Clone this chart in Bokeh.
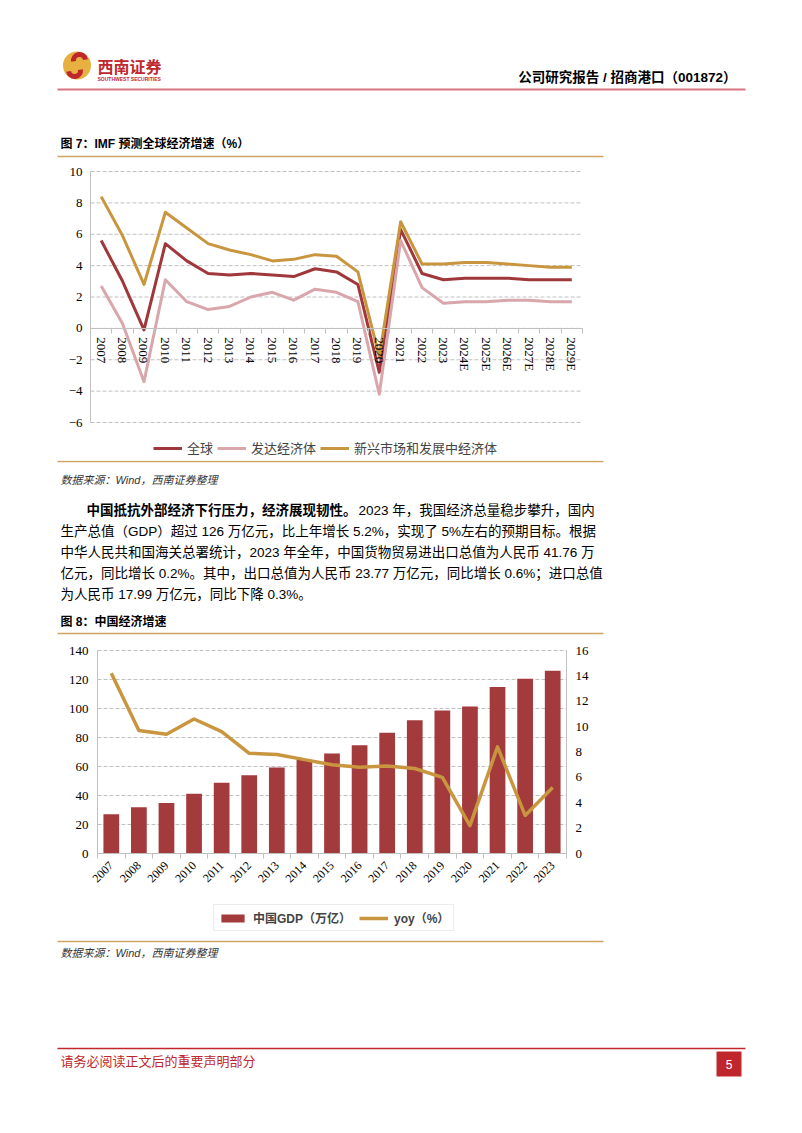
import math
from bokeh.plotting import figure
from bokeh.models import Range1d, LinearAxis, FixedTicker, Legend, LegendItem
from bokeh.layouts import column
from bokeh.embed import file_html
from bokeh.resources import INLINE
from bokeh.core.properties import value

# ---------------- data ----------------
years1 = ["2007", "2008", "2009", "2010", "2011", "2012", "2013", "2014", "2015", "2016",
          "2017", "2018", "2019", "2020", "2021", "2022", "2023",
          "2024E", "2025E", "2026E", "2027E", "2028E", "2029E"]
world = [5.6, 3.0, -0.1, 5.4, 4.3, 3.5, 3.4, 3.5, 3.4, 3.3, 3.8, 3.6, 2.8, -2.8, 6.3, 3.5,
         3.1, 3.2, 3.2, 3.2, 3.1, 3.1, 3.1]
advanced = [2.7, 0.3, -3.4, 3.1, 1.7, 1.2, 1.4, 2.0, 2.3, 1.8, 2.5, 2.3, 1.7, -4.2, 5.6, 2.6,
            1.6, 1.7, 1.7, 1.8, 1.8, 1.7, 1.7]
emerging = [8.4, 5.9, 2.8, 7.4, 6.4, 5.4, 5.0, 4.7, 4.3, 4.4, 4.7, 4.6, 3.6, -1.8, 6.8, 4.1,
            4.1, 4.2, 4.2, 4.1, 4.0, 3.9, 3.9]
series1_names = ["全球", "发达经济体", "新兴市场和发展中经济体"]
yticks1 = [-6, -4, -2, 0, 2, 4, 6, 8, 10]

years2 = ["2007", "2008", "2009", "2010", "2011", "2012", "2013", "2014", "2015", "2016",
          "2017", "2018", "2019", "2020", "2021", "2022", "2023"]
gdp = [27.0, 31.9, 34.9, 41.2, 48.8, 53.9, 59.3, 64.4, 68.9, 74.6, 83.2, 91.9, 98.7,
       101.4, 114.9, 120.5, 126.1]
yoy = [14.2, 9.7, 9.4, 10.6, 9.6, 7.9, 7.8, 7.4, 7.0, 6.8, 6.9, 6.7, 6.0, 2.2, 8.4, 3.0, 5.2]
series2_names = ["中国GDP（万亿）", "yoy（%）"]
yticks2_left = [0, 20, 40, 60, 80, 100, 120, 140]
yticks2_right = [0, 2, 4, 6, 8, 10, 12, 14, 16]

# ---------------- style ----------------
W = 802
RED = "#A0373B"
PINK = "#D8A6AB"
GOLD = "#C9963F"
BAR = "#A33A3C"
GRID = "#C0C0C0"
RULE = "#CFA561"
BRAND = "#C0272D"
CJK = "Noto Sans CJK SC"
MIX = "Liberation Sans, Noto Sans CJK SC"
SERIF = "Liberation Serif"


def span_range(v0, p0, v1, p1, pa, pb):
    """Range whose ends sit at pixels pa, pb, given that value v0 is at pixel p0 and v1 at p1."""
    k = (v1 - v0) / (p1 - p0)
    return Range1d(v0 + (pa - p0) * k, v0 + (pb - p0) * k)


def base_fig(h, xr, yr):
    p = figure(width=W, height=h, x_range=xr, y_range=yr,
               output_backend="svg", toolbar_location=None, min_border=0,
               x_axis_location=None, y_axis_location=None)
    p.grid.visible = False
    p.outline_line_color = None
    return p


def page_fig(top, bottom):
    return base_fig(bottom - top, Range1d(0, W), Range1d(bottom, top))


def txt(p, x, y, s, size, font=CJK, style="normal", color="#000000", align="left"):
    p.text(x=[x], y=[y], text=[s], text_font=value(font), text_font_size=size,
           text_font_style=style, text_color=color, text_align=align, text_baseline="middle")


def rule(p, x0, x1, y, color, w):
    p.segment(x0=[x0], x1=[x1], y0=[y], y1=[y], line_color=color, line_width=w)


def style_axis(ax, size="13px", standoff=8):
    ax.axis_line_color = GRID
    ax.major_tick_out = 0
    ax.major_tick_in = 0
    ax.minor_tick_out = 0
    ax.minor_tick_in = 0
    ax.major_label_text_font = SERIF
    ax.major_label_text_font_size = size
    ax.major_label_text_color = "#000000"
    ax.major_label_standoff = standoff


def cat_axis(labels, loc, orientation, standoff, size):
    n = len(labels)
    ax = LinearAxis(fixed_location=loc, bounds=(-0.5, n - 0.5),
                    ticker=FixedTicker(ticks=list(range(n)),
                                       minor_ticks=[i - 0.5 for i in range(n + 1)]))
    style_axis(ax, size, standoff)
    ax.major_label_overrides = {i: s for i, s in enumerate(labels)}
    ax.major_label_orientation = orientation
    ax.minor_tick_out = 5
    ax.minor_tick_line_color = GRID
    return ax


# ---------------- header ----------------
head = page_fig(0, 160)
head.circle(x=[76.5], y=[65], radius=14, fill_color="#E8B040", line_color=None)
head.annular_wedge(x=[79], y=[60], inner_radius=3.5, outer_radius=8.5,
                   start_angle=math.pi * 0.05, end_angle=math.pi * 1.05,
                   fill_color=BRAND, line_color=None)
head.annular_wedge(x=[74], y=[70], inner_radius=3.5, outer_radius=8.5,
                   start_angle=math.pi * 1.05, end_angle=math.pi * 2.05,
                   fill_color=BRAND, line_color=None)
txt(head, 97, 65, "西南证券", "16px", style="bold", color=BRAND)
txt(head, 97, 78, "SOUTHWEST SECURITIES", "5px", font="Liberation Sans", style="bold", color=BRAND)
rule(head, 57, 745, 89, "#D9737D", 2)
txt(head, 736, 77, "公司研究报告 / 招商港口（001872）", "13.5px", font=MIX, style="bold", align="right")
txt(head, 60, 143, "图 7：IMF 预测全球经济增速（%）", "12px", font=MIX, style="bold")
rule(head, 57, 603, 156, RULE, 1.5)

# ---------------- chart 1 (page y 160..460) ----------------
H1 = 300
n1 = len(years1)
x1 = list(range(n1))
p1 = base_fig(H1,
              span_range(-0.5, 90, n1 - 0.5, 582, 0, W),
              span_range(10, 11, -6, 262, H1, 0))
p1.segment(x0=[-0.5] * len(yticks1), x1=[n1 - 0.5] * len(yticks1), y0=yticks1, y1=yticks1,
           line_color=GRID, line_width=1, line_dash="4 2")
yax1 = LinearAxis(fixed_location=-0.5, bounds=(-6, 10), ticker=FixedTicker(ticks=yticks1))
style_axis(yax1, "13px", 8)
p1.add_layout(yax1, "left")
xax1 = cat_axis(years1, 0, "vertical", 4, "13px")
p1.add_layout(xax1, "below")

r_w = p1.line(x1, world, line_color=RED, line_width=3, line_join="round")
r_a = p1.line(x1, advanced, line_color=PINK, line_width=3, line_join="round")
r_e = p1.line(x1, emerging, line_color=GOLD, line_width=3, line_join="round")
leg1 = Legend(items=[LegendItem(label=series1_names[0], renderers=[r_w]),
                     LegendItem(label=series1_names[1], renderers=[r_a]),
                     LegendItem(label=series1_names[2], renderers=[r_e])],
              orientation="horizontal", location=(153, 3), glyph_width=29, glyph_height=12,
              label_standoff=5, spacing=4, padding=0, margin=0,
              border_line_color=None, background_fill_alpha=0,
              label_text_font=CJK, label_text_font_size="13px")
p1.add_layout(leg1)

# ---------------- middle text (page y 460..640) ----------------
mid = page_fig(460, 640)
rule(mid, 57, 603, 461, RULE, 1.5)
txt(mid, 60, 479, "数据来源：Wind，西南证券整理", "11px", font=MIX, style="italic", color="#333333")
txt(mid, 86, 510, "中国抵抗外部经济下行压力，经济展现韧性。", "13.5px", font=MIX, style="bold")
txt(mid, 358, 510, "2023 年，我国经济总量稳步攀升，国内", "13.5px", font=MIX)
txt(mid, 60, 531, "生产总值（GDP）超过 126 万亿元，比上年增长 5.2%，实现了 5%左右的预期目标。根据", "13.5px", font=MIX)
txt(mid, 60, 552, "中华人民共和国海关总署统计，2023 年全年，中国货物贸易进出口总值为人民币 41.76 万", "13.5px", font=MIX)
txt(mid, 60, 573, "亿元，同比增长 0.2%。其中，出口总值为人民币 23.77 万亿元，同比增长 0.6%；进口总值", "13.5px", font=MIX)
txt(mid, 60, 594, "为人民币 17.99 万亿元，同比下降 0.3%。", "13.5px", font=MIX)
txt(mid, 60, 621, "图 8：中国经济增速", "12px", font=MIX, style="bold")
rule(mid, 57, 603, 633, RULE, 1.5)

# ---------------- chart 2 (page y 640..938) ----------------
H2 = 298
n2 = len(years2)
x2 = list(range(n2))
p2 = base_fig(H2,
              span_range(-0.5, 97, n2 - 0.5, 566, 0, W),
              span_range(140, 10, 0, 213, H2, 0))
p2.extra_y_ranges = {"yoy": span_range(16, 10, 0, 213, H2, 0)}
p2.segment(x0=[-0.5] * len(yticks2_left), x1=[n2 - 0.5] * len(yticks2_left),
           y0=yticks2_left, y1=yticks2_left, line_color=GRID, line_width=1, line_dash="4 2")
yax2 = LinearAxis(fixed_location=-0.5, bounds=(0, 140), ticker=FixedTicker(ticks=yticks2_left))
style_axis(yax2, "13px", 9)
p2.add_layout(yax2, "left")
yax2r = LinearAxis(y_range_name="yoy", fixed_location=n2 - 0.5, bounds=(0, 16),
                   ticker=FixedTicker(ticks=yticks2_right))
style_axis(yax2r, "13px", 9)
p2.add_layout(yax2r, "right")
xax2 = cat_axis(years2, 0, math.pi / 4, 5, "12px")
p2.add_layout(xax2, "below")

r_bar = p2.vbar(x=x2, top=gdp, width=0.57, fill_color=BAR, line_color=None)
r_yoy = p2.line(x2, yoy, y_range_name="yoy", line_color=GOLD, line_width=3.5, line_join="round")
leg2 = Legend(items=[LegendItem(label=series2_names[0], renderers=[r_bar]),
                     LegendItem(label=series2_names[1], renderers=[r_yoy])],
              orientation="horizontal", location=(213, 7), glyph_width=29, glyph_height=10,
              label_standoff=6, spacing=8, padding=4, margin=0,
              border_line_color="#D9D9D9", background_fill_color="white",
              label_text_font=MIX, label_text_font_size="12px", label_text_font_style="bold")
p2.add_layout(leg2)

# ---------------- footer (page y 938..1133) ----------------
foot = page_fig(938, 1133)
rule(foot, 57, 603, 941, RULE, 1.5)
txt(foot, 60, 952, "数据来源：Wind，西南证券整理", "11px", font=MIX, style="italic", color="#333333")
rule(foot, 57, 745, 1048, BRAND, 1.5)
txt(foot, 60, 1060, "请务必阅读正文后的重要声明部分", "13px", color=BRAND)
foot.quad(left=[716], right=[741], top=[1051], bottom=[1076], fill_color=BRAND, line_color=None)
txt(foot, 728.5, 1063.5, "5", "12px", font="Liberation Sans", color="#FFFFFF", align="center")

page = column(head, p1, mid, p2, foot, spacing=0)
open("out.html", "w").write(file_html(page, INLINE))
